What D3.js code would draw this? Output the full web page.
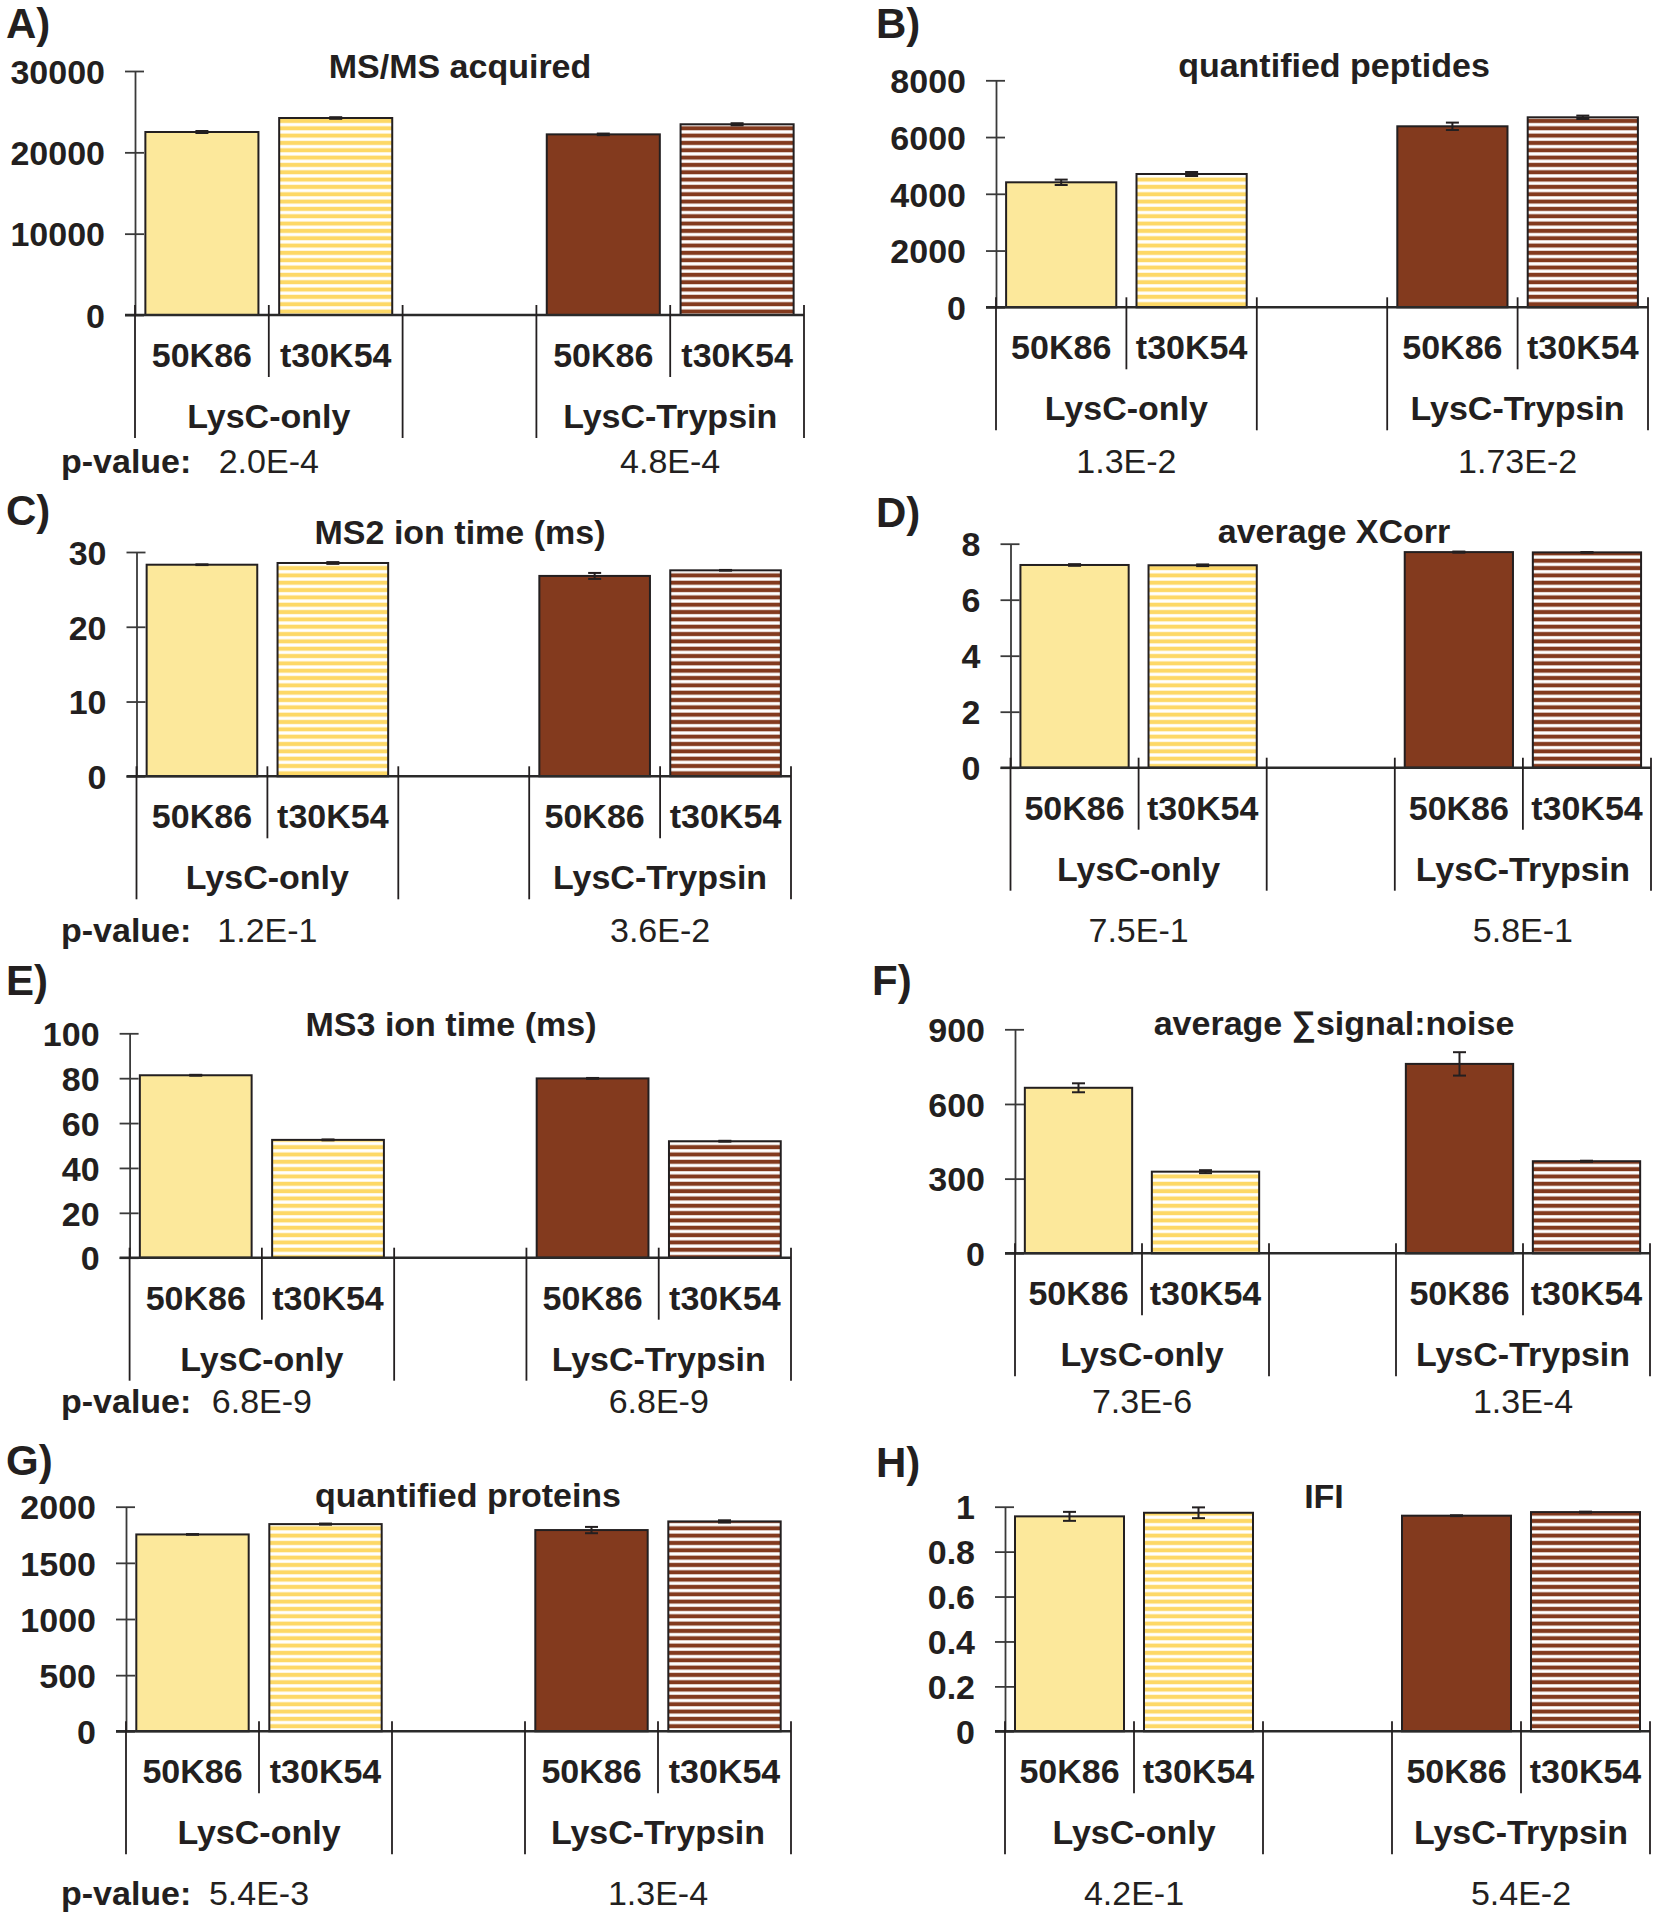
<!DOCTYPE html>
<html>
<head>
<meta charset="utf-8">
<script src="https://cdn.jsdelivr.net/npm/d3@7"></script>
<style>
  html, body { margin: 0; padding: 0; background: #fff; }
  svg text { font-family: "Liberation Sans", Arial, Helvetica, sans-serif; fill: #231f20; }
</style>
</head>
<body>
<svg id="chart" width="1658" height="1920"></svg>
<script>
// ---------------- data ----------------
const panelLetters = ["A)", "B)", "C)", "D)", "E)", "F)", "G)", "H)"];
const titles = ["MS/MS acquired", "quantified peptides", "MS2 ion time (ms)", "average XCorr",
                "MS3 ion time (ms)", "average \u2211signal:noise", "quantified proteins", "IFI"];
const subCategories = ["50K86", "t30K54"];
const groups = ["LysC-only", "LysC-Trypsin"];
const yTicks = [
  [0, 10000, 20000, 30000],
  [0, 2000, 4000, 6000, 8000],
  [0, 10, 20, 30],
  [0, 2, 4, 6, 8],
  [0, 20, 40, 60, 80, 100],
  [0, 300, 600, 900],
  [0, 500, 1000, 1500, 2000],
  [0, 0.2, 0.4, 0.6, 0.8, 1]
];
// order: LysC-only 50K86, LysC-only t30K54, LysC-Trypsin 50K86, LysC-Trypsin t30K54
const values = [
  [22500, 24220, 22210, 23450],
  [4405, 4698, 6379, 6696],
  [28.3, 28.53, 26.8, 27.55],
  [7.24, 7.23, 7.70, 7.69],
  [81.3, 52.5, 79.9, 51.9],
  [665, 328, 761, 370],
  [1753, 1845, 1792, 1869],
  [0.957, 0.973, 0.960, 0.976]
];
const errors = [
  [120, 100, 100, 130],
  [95, 70, 130, 60],
  [0.05, 0.12, 0.4, 0.05],
  [0.03, 0.03, 0.02, 0.01],
  [0.2, 0.2, 0.2, 0.2],
  [18, 6, 47, 2],
  [3, 5, 28, 10],
  [0.02, 0.024, 0.002, 0.002]
];
const pValues = [
  ["2.0E-4", "4.8E-4"], ["1.3E-2", "1.73E-2"],
  ["1.2E-1", "3.6E-2"], ["7.5E-1", "5.8E-1"],
  ["6.8E-9", "6.8E-9"], ["7.3E-6", "1.3E-4"],
  ["5.4E-3", "1.3E-4"], ["4.2E-1", "5.4E-2"]
];
const pLabel = "p-value:";

// ---------------- layout (pixel positions) ----------------
const layout = [
  {axisX: 135,  right: 804,  top: 71,    base: 315,    lx: 6,   ly: 38,   tx: 460,  ty: 78,   py: 473},
  {axisX: 996,  right: 1648, top: 80.3,  base: 307.3,  lx: 876, ly: 38,   tx: 1334, ty: 77,   py: 473},
  {axisX: 136.5,right: 791,  top: 552,   base: 776.3,  lx: 6,   ly: 525,  tx: 460,  ty: 544,  py: 942},
  {axisX: 1010.5,right: 1651,top: 543.7, base: 767.7,  lx: 876, ly: 527,  tx: 1334, ty: 543,  py: 942},
  {axisX: 129.6,right: 791,  top: 1033.3,base: 1257.7, lx: 6,   ly: 995,  tx: 451,  ty: 1036, py: 1413},
  {axisX: 1015, right: 1650, top: 1029.3,base: 1253.3, lx: 872, ly: 995,  tx: 1334, ty: 1035, py: 1413},
  {axisX: 126,  right: 791,  top: 1506.7,base: 1731.3, lx: 6,   ly: 1475, tx: 468,  ty: 1507, py: 1905},
  {axisX: 1005, right: 1650, top: 1506.7,base: 1731.3, lx: 876, ly: 1477, tx: 1324, ty: 1508, py: 1905}
];
const pLabelX = 61;

const ink = "#231f20";
const lightYellow = "#fce89b";
const stripeYellow = "#fdd866";
const brown = "#833a1e";
const fontSize = 34;

const svg = d3.select("#chart");
const defs = svg.append("defs");
function stripePattern(id, color) {
  const p = defs.append("pattern").attr("id", id)
    .attr("patternUnits", "userSpaceOnUse").attr("width", 10).attr("height", 7.33);
  p.append("rect").attr("width", 10).attr("height", 7.33).attr("fill", "#ffffff");
  p.append("rect").attr("y", 1.6).attr("width", 10).attr("height", 4.1).attr("fill", color);
}
stripePattern("stripeY", stripeYellow);
stripePattern("stripeB", brown);

const fills = [lightYellow, "url(#stripeY)", brown, "url(#stripeB)"];
const slots = ["g0s0", "g0s1", "gap", "g1s0", "g1s1"];
const barSlots = ["g0s0", "g0s1", "g1s0", "g1s1"];

panelLetters.forEach((letter, i) => {
  const L = layout[i];
  const g = svg.append("g");

  const x = d3.scaleBand().domain(slots).range([L.axisX, L.right]).paddingInner(0).paddingOuter(0);
  const ticks = yTicks[i];
  const y = d3.scaleLinear().domain([0, ticks[ticks.length - 1]]).range([L.base, L.top]);

  // panel letter
  g.append("text").attr("x", L.lx).attr("y", L.ly)
    .attr("font-size", 42).attr("font-weight", "bold").text(letter);

  // title
  g.append("text").attr("x", L.tx).attr("y", L.ty).attr("text-anchor", "middle")
    .attr("font-size", fontSize).attr("font-weight", "bold").text(titles[i]);

  // y axis
  const yAxis = d3.axisLeft(y).tickValues(ticks).tickSize(10).tickSizeOuter(0)
    .tickPadding(20).tickFormat(d => String(d));
  const ag = g.append("g").attr("transform", `translate(${L.axisX},0)`).call(yAxis);
  ag.select(".domain").attr("stroke", "#3a3a3a").attr("stroke-width", 1.8);
  ag.selectAll(".tick line").attr("x1", 9).attr("stroke", "#3a3a3a").attr("stroke-width", 1.8);
  ag.selectAll(".tick text").attr("font-size", fontSize).attr("font-weight", "bold")
    .attr("font-family", "'Liberation Sans', Arial, sans-serif").attr("fill", ink).attr("dy", "0.36em");

  // bars
  const bw = x.bandwidth() * 0.845;
  const off = (x.bandwidth() - bw) / 2;
  barSlots.forEach((s, k) => {
    const v = values[i][k];
    g.append("rect")
      .attr("x", x(s) + off).attr("y", y(v))
      .attr("width", bw).attr("height", y(0) - y(v))
      .attr("fill", fills[k]).attr("stroke", ink).attr("stroke-width", 2);
  });

  // error bars
  barSlots.forEach((s, k) => {
    const v = values[i][k], e = errors[i][k];
    const cx = x(s) + x.bandwidth() / 2;
    const eg = g.append("g").attr("stroke", ink).attr("stroke-width", 2).attr("fill", "none");
    eg.append("line").attr("x1", cx).attr("x2", cx).attr("y1", y(v + e)).attr("y2", y(v - e));
    eg.append("line").attr("x1", cx - 6.5).attr("x2", cx + 6.5).attr("y1", y(v + e)).attr("y2", y(v + e));
    eg.append("line").attr("x1", cx - 6.5).attr("x2", cx + 6.5).attr("y1", y(v - e)).attr("y2", y(v - e));
  });

  // baseline
  g.append("line").attr("x1", L.axisX - 10).attr("x2", L.right)
    .attr("y1", y(0)).attr("y2", y(0)).attr("stroke", "#2a2a2a").attr("stroke-width", 2.6);

  // category dividers
  const bounds = slots.map(s => x(s)).concat([L.right]);
  bounds.forEach((bx, k) => {
    const tall = (k === 0 || k === 2 || k === 3 || k === 5);
    g.append("line").attr("x1", bx).attr("x2", bx)
      .attr("y1", y(0) - 10).attr("y2", y(0) + (tall ? 123 : 62))
      .attr("stroke", ink).attr("stroke-width", 1.8);
  });

  // sub-category labels
  barSlots.forEach((s, k) => {
    g.append("text").attr("x", x(s) + x.bandwidth() / 2).attr("y", y(0) + 52)
      .attr("text-anchor", "middle").attr("font-size", fontSize).attr("font-weight", "bold")
      .text(subCategories[k % 2]);
  });

  // group labels
  groups.forEach((gr, k) => {
    const a = x(barSlots[2 * k]), b = x(barSlots[2 * k + 1]) + x.bandwidth();
    g.append("text").attr("x", (a + b) / 2).attr("y", y(0) + 113)
      .attr("text-anchor", "middle").attr("font-size", fontSize).attr("font-weight", "bold")
      .text(gr);
    g.append("text").attr("x", (a + b) / 2).attr("y", L.py)
      .attr("text-anchor", "middle").attr("font-size", fontSize)
      .text(pValues[i][k]);
  });

  if (i % 2 === 0) {
    g.append("text").attr("x", pLabelX).attr("y", L.py)
      .attr("font-size", fontSize).attr("font-weight", "bold").text(pLabel);
  }
});
</script>
</body>
</html>
